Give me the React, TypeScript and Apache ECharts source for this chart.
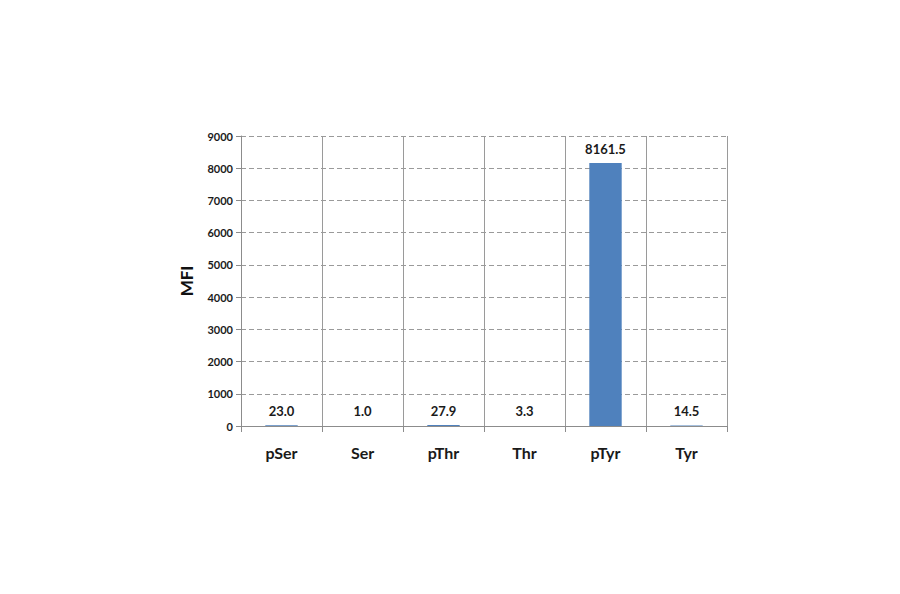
import React, { useEffect, useRef } from 'react';
import * as echarts from 'echarts';

const categories = ['pSer', 'Ser', 'pThr', 'Thr', 'pTyr', 'Tyr'];
const mfiValues = [23.0, 1.0, 27.9, 3.3, 8161.5, 14.5];

const FONT = 'Lato, "Open Sans", sans-serif';

const App: React.FC = () => {
  const chartRef = useRef<HTMLDivElement>(null);

  useEffect(() => {
    if (!chartRef.current) return;
    const chart = echarts.init(chartRef.current, undefined, { renderer: 'svg' });

    const option = {
      animation: false,
      backgroundColor: '#ffffff',
      grid: {
        left: 241,
        right: 173,
        top: 136,
        bottom: 168,
        containLabel: false
      },
      xAxis: {
        type: 'category',
        data: categories,
        axisLine: { lineStyle: { color: '#8c8c8c', width: 1 } },
        axisTick: { show: true, length: 6, lineStyle: { color: '#8c8c8c' } },
        axisLabel: {
          color: '#1a1a1a',
          fontWeight: 'bold',
          fontSize: 16,
          fontFamily: FONT,
          margin: 18
        },
        splitLine: { show: true, lineStyle: { color: '#9a9a9a', width: 1, type: 'solid' } }
      },
      yAxis: {
        type: 'value',
        min: 0,
        max: 9000,
        interval: 1000,
        name: 'MFI',
        nameLocation: 'middle',
        nameGap: 46,
        nameTextStyle: {
          color: '#111',
          fontWeight: 'bold',
          fontSize: 17,
          fontFamily: FONT
        },
        axisLine: { show: true, lineStyle: { color: '#8c8c8c', width: 1 } },
        axisTick: { show: true, length: 5, lineStyle: { color: '#8c8c8c' } },
        axisLabel: {
          color: '#1a1a1a',
          fontWeight: 'bold',
          fontSize: 11,
          fontFamily: FONT,
          margin: 8,
          formatter: (v: number) => String(v)
        },
        splitLine: {
          show: true,
          lineStyle: { color: '#9a9a9a', width: 1, type: [5, 3] }
        }
      },
      series: [
        {
          name: 'MFI',
          type: 'bar',
          data: mfiValues,
          barWidth: '40%',
          itemStyle: { color: '#4f81bd' },
          label: {
            show: true,
            position: 'top',
            distance: 8,
            color: '#1a1a1a',
            fontWeight: 'bold',
            fontSize: 13,
            fontFamily: FONT,
            formatter: (p: { value: number }) => p.value.toFixed(1)
          }
        }
      ]
    };

    chart.setOption(option);

    return () => {
      chart.dispose();
    };
  }, []);

  return <div ref={chartRef} style={{ width: 900, height: 594, margin: -8 }} />;
};

export default App;
